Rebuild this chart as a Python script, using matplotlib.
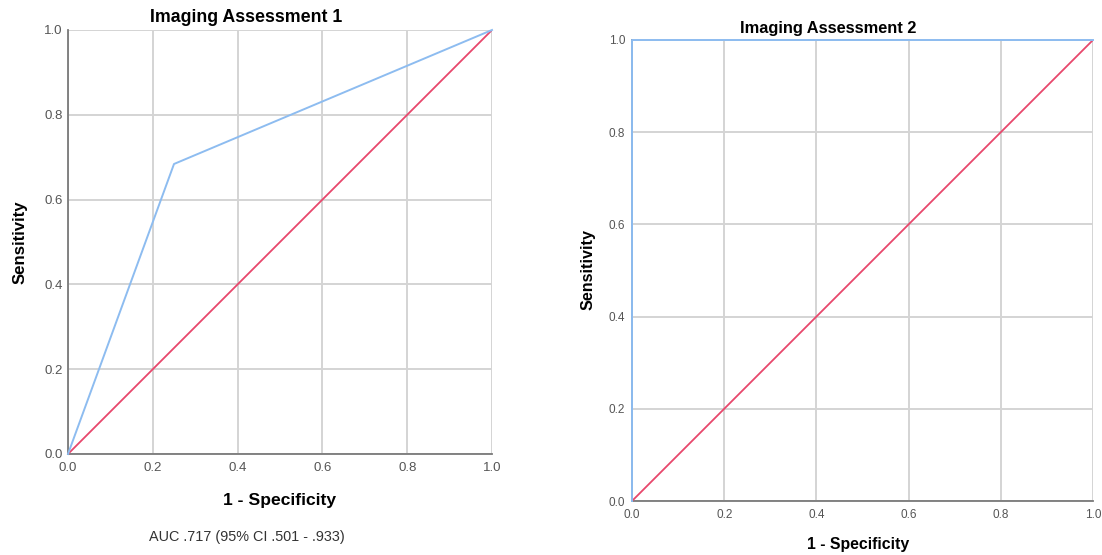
import matplotlib.pyplot as plt
import numpy as np

plt.rcParams['font.family'] = ['Liberation Sans', 'DejaVu Sans']

# ROC curve points (1 - specificity, sensitivity)
fpr_1 = [0.0, 0.25, 1.0]
tpr_1 = [0.0, 0.684, 1.0]
fpr_2 = [0.0, 0.0, 1.0]
tpr_2 = [0.0, 1.0, 1.0]
ref_line = [0.0, 1.0]
ticks = [0.0, 0.2, 0.4, 0.6, 0.8, 1.0]
titulos = ['Imaging Assessment 1', 'Imaging Assessment 2']
auc_texto = 'AUC .717 (95% CI .501 - .933)'

COR_ROC = '#8dbcf0'
COR_REF = '#e8476c'
W, H = 1102, 555


def eixo(fig, x0, x1, y0, y1):
    # pixel box -> figure fraction
    return fig.add_axes([x0 / W, 1 - y1 / H, (x1 - x0) / W, (y1 - y0) / H])


def desenhar(ax, fpr, tpr, tam, pad_x, pad_y):
    ax.set_xlim(0, 1)
    ax.set_ylim(0, 1)
    ax.set_xticks(ticks)
    ax.set_yticks(ticks)
    ax.set_xticklabels([f'{t:.1f}' for t in ticks])
    ax.set_yticklabels([f'{t:.1f}' for t in ticks])
    ax.grid(True, color='#d4d4d4', linewidth=1.4)
    ax.set_axisbelow(True)
    for s in ['top', 'right']:
        ax.spines[s].set_visible(False)
    for s in ['left', 'bottom']:
        ax.spines[s].set_color('#7a7a7a')
        ax.spines[s].set_linewidth(1.3)
    ax.tick_params(length=0, labelsize=tam, colors='#555555')
    ax.tick_params(axis='x', pad=pad_x)
    ax.tick_params(axis='y', pad=pad_y)
    ax.plot(ref_line, ref_line, color=COR_REF, linewidth=1.3, zorder=3)
    ax.plot(fpr, tpr, color=COR_ROC, linewidth=1.4, zorder=4, clip_on=False)


fig = plt.figure(figsize=(W / 100, H / 100), dpi=100)

ax1 = eixo(fig, 68, 492, 30, 454)
desenhar(ax1, fpr_1, tpr_1, 9.5, 6, 4)
ax2 = eixo(fig, 632, 1093, 40, 501)
desenhar(ax2, fpr_2, tpr_2, 8.5, 6, 5)

fig.text(246 / W, 1 - 17 / H, titulos[0], ha='center', va='center', fontsize=12.8, fontweight='bold')
fig.text(828 / W, 1 - 28 / H, titulos[1], ha='center', va='center', fontsize=11.8, fontweight='bold')
fig.text(280 / W, 1 - 501 / H, '1 - Specificity', ha='center', va='center', fontsize=12.6, fontweight='bold')
fig.text(858 / W, 1 - 545 / H, '1 - Specificity', ha='center', va='center', fontsize=11.4, fontweight='bold')
fig.text(20 / W, 1 - 242 / H, 'Sensitivity', ha='center', va='center', rotation=90, fontsize=12.1, fontweight='bold')
fig.text(588 / W, 1 - 270 / H, 'Sensitivity', ha='center', va='center', rotation=90, fontsize=11.6, fontweight='bold')
fig.text(247 / W, 1 - 537 / H, auc_texto, ha='center', va='center', fontsize=10.4, color='#333333')

fig.savefig('out.png', dpi=100)
